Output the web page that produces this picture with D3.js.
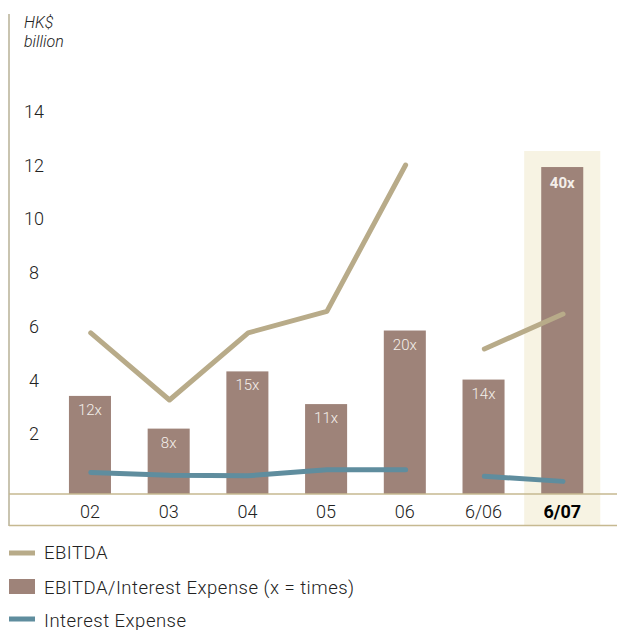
<!DOCTYPE html>
<html>
<head>
<meta charset="utf-8">
<script src="https://cdn.jsdelivr.net/npm/d3@7"></script>
<style>
  html, body { margin: 0; padding: 0; background: #fff; }
  svg { display: block; }
  text { font-family: Roboto, "Liberation Sans", sans-serif; }
</style>
</head>
<body>
<div id="chart"></div>
<script>
// Periods on the x axis
const periods = ["02", "03", "04", "05", "06", "6/06", "6/07"];
// Which line segment each period belongs to (full years vs. half years)
const segment = ["year", "year", "year", "year", "year", "half", "half"];
// EBITDA, HK$ billion
const ebitda = [6.0, 3.5, 6.0, 6.8, 12.25, 5.4, 6.7];
// Interest expense, HK$ billion
const interest = [0.8, 0.7, 0.68, 0.9, 0.9, 0.66, 0.47];
// EBITDA / interest expense cover, times
const cover = [12, 8, 15, 11, 20, 14, 40];
const coverLabels = ["12x", "8x", "15x", "11x", "20x", "14x", "40x"];
// Left axis ticks
const yTicks = [2, 4, 6, 8, 10, 12, 14];
const highlighted = "6/07";

const W = 617, H = 630;
const colors = {
  ebitda: "#b8ab89",
  bar: "#9e8379",
  interest: "#5f8d9e",
  highlight: "#f7f3e3",
  axis: "#c9c4b0",
  base: "#c6b991",
  text: "#222"
};

const svg = d3.select("#chart").append("svg")
  .attr("width", W).attr("height", H);

const x = d3.scaleBand()
  .domain(periods)
  .range([50.6, 601.6])
  .paddingInner(0.466)
  .paddingOuter(0.233);

const y = d3.scaleLinear().domain([0, 14]).range([494, 118]);
// Cover ratio drawn on its own scale sharing the same baseline
const yCover = d3.scaleLinear().domain([0, 46]).range(y.range());

const cx = p => x(p) + x.bandwidth() / 2;
const step = x.step();

// Highlight column behind the latest period
svg.append("rect")
  .attr("x", cx(highlighted) - step / 2 + 1.3)
  .attr("width", step - 2.6)
  .attr("y", 151)
  .attr("height", 525 - 151)
  .attr("fill", colors.highlight);

// Left axis rule
svg.append("line")
  .attr("x1", 9).attr("x2", 9).attr("y1", 14).attr("y2", 526)
  .attr("stroke", colors.axis).attr("stroke-width", 2);

// Unit label
svg.append("text")
  .attr("x", 24).attr("y", 28)
  .attr("font-style", "italic").attr("font-size", 16)
  .attr("font-weight", 300).attr("fill", colors.text)
  .text("HK$");
svg.append("text")
  .attr("x", 24).attr("y", 47)
  .attr("font-style", "italic").attr("font-size", 16)
  .attr("font-weight", 300).attr("fill", colors.text)
  .text("billion");

// Tick labels, sitting on their values
svg.append("g").selectAll("text")
  .data(yTicks)
  .join("text")
  .attr("x", 34)
  .attr("y", d => y(d))
  .attr("text-anchor", "middle")
  .attr("font-size", 18)
  .attr("font-weight", 300)
  .attr("fill", colors.text)
  .text(d => d);

// Cover bars
const rows = periods.map((p, i) => ({
  p, seg: segment[i], ebitda: ebitda[i], interest: interest[i],
  cover: cover[i], label: coverLabels[i]
}));

svg.append("g").selectAll("rect")
  .data(rows)
  .join("rect")
  .attr("x", d => x(d.p))
  .attr("width", x.bandwidth())
  .attr("y", d => yCover(d.cover))
  .attr("height", d => yCover(0) - yCover(d.cover))
  .attr("fill", colors.bar);

svg.append("g").selectAll("text")
  .data(rows)
  .join("text")
  .attr("x", d => cx(d.p))
  .attr("y", d => yCover(d.cover) + (d.p === highlighted ? 21 : 19))
  .attr("text-anchor", "middle")
  .attr("font-size", 15)
  .attr("font-weight", d => d.p === highlighted ? 700 : 300)
  .attr("fill", "#f4efea")
  .text(d => d.label);

// Baseline and bottom rule
svg.append("line")
  .attr("x1", 9).attr("x2", W).attr("y1", y(0)).attr("y2", y(0))
  .attr("stroke", colors.base).attr("stroke-width", 1.5);
svg.append("line")
  .attr("x1", 9).attr("x2", W).attr("y1", 525.5).attr("y2", 525.5)
  .attr("stroke", colors.base).attr("stroke-width", 1.5);

// Period labels
svg.append("g").selectAll("text")
  .data(periods)
  .join("text")
  .attr("x", d => cx(d))
  .attr("y", 518)
  .attr("text-anchor", "middle")
  .attr("font-size", 18)
  .attr("font-weight", d => d === highlighted ? 700 : 300)
  .attr("fill", d => d === highlighted ? "#000" : colors.text)
  .text(d => d);

// Lines, drawn separately for full years and half years
const groups = d3.groups(rows, d => d.seg);
function drawLine(key, color) {
  const line = d3.line().x(d => cx(d.p) + 0.8).y(d => y(d[key]));
  svg.append("g").selectAll("path")
    .data(groups)
    .join("path")
    .attr("d", g => line(g[1]))
    .attr("fill", "none")
    .attr("stroke", color)
    .attr("stroke-width", 5)
    .attr("stroke-linecap", "round")
    .attr("stroke-linejoin", "round");
}
drawLine("interest", colors.interest);
drawLine("ebitda", colors.ebitda);

// Legend
const legend = svg.append("g");
const items = [
  { label: "EBITDA", type: "line", color: colors.ebitda, y: 553, ty: 559 },
  { label: "EBITDA/Interest Expense (x = times)", type: "rect", color: colors.bar, y: 586.5, ty: 594 },
  { label: "Interest Expense", type: "line", color: colors.interest, y: 619, ty: 627 }
];
items.forEach(it => {
  if (it.type === "line") {
    legend.append("rect").attr("x", 9).attr("y", it.y - 2.5).attr("width", 26).attr("height", 5)
      .attr("fill", it.color);
  } else {
    legend.append("rect").attr("x", 9).attr("y", it.y - 7.5).attr("width", 26).attr("height", 15)
      .attr("fill", it.color);
  }
  legend.append("text").attr("x", 44).attr("y", it.ty)
    .attr("font-size", 18.5).attr("font-weight", 300).attr("letter-spacing", 0.5)
    .attr("fill", colors.text)
    .text(it.label);
});
</script>
</body>
</html>
